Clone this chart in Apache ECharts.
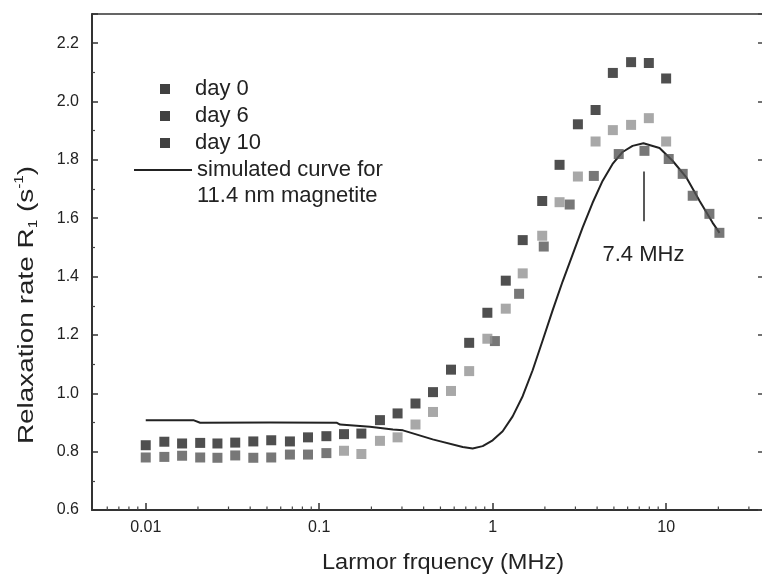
<!DOCTYPE html>
<html>
<head>
<meta charset="utf-8">
<script src="https://cdn.jsdelivr.net/npm/echarts@6/dist/echarts.min.js"></script>
<style>
  html, body { margin: 0; padding: 0; background: #fff; }
  #chart { width: 762px; height: 579px; }
</style>
</head>
<body>
<div id="chart"></div>
<script>
// Larmor frequencies (MHz) and relaxation rates R1 (1/s)
const day0Freq = [0.01, 0.0128, 0.0162, 0.0206, 0.0259, 0.0328, 0.0417, 0.0529, 0.0678, 0.0862,
  0.110, 0.139, 0.175, 0.224, 0.283, 0.359, 0.453, 0.575, 0.732, 0.932,
  1.19, 1.49, 1.93, 2.43, 3.10, 3.92, 4.93, 6.28, 7.95, 10.0];
const day0R1 = [0.822, 0.834, 0.828, 0.830, 0.828, 0.831, 0.835, 0.839, 0.835, 0.849,
  0.853, 0.860, 0.862, 0.908, 0.931, 0.965, 1.004, 1.081, 1.173, 1.276,
  1.386, 1.525, 1.659, 1.783, 1.922, 1.971, 2.098, 2.135, 2.132, 2.079];

const day6Freq = [0.139, 0.175, 0.224, 0.283, 0.359, 0.453, 0.575, 0.732, 0.932, 1.19,
  1.49, 1.93, 2.43, 3.10, 3.92, 4.93, 6.28, 7.95, 10.0];
const day6R1 = [0.803, 0.792, 0.837, 0.849, 0.893, 0.936, 1.008, 1.076, 1.187, 1.290,
  1.411, 1.540, 1.655, 1.743, 1.863, 1.902, 1.920, 1.943, 1.863];

const day10Freq = [0.01, 0.0128, 0.0162, 0.0206, 0.0259, 0.0328, 0.0417, 0.0529, 0.0678, 0.0862,
  0.110, 1.03, 1.42, 1.97, 2.78, 3.83, 5.33, 7.50, 10.35, 12.46, 14.23, 17.76, 20.28];
const day10R1 = [0.780, 0.782, 0.786, 0.780, 0.779, 0.787, 0.779, 0.780, 0.790, 0.790,
  0.795, 1.179, 1.341, 1.503, 1.647, 1.745, 1.820, 1.831, 1.803, 1.752, 1.677, 1.615, 1.550];

// simulated curve for 11.4 nm magnetite
const simFreq = [0.01, 0.0188, 0.0206, 0.0522, 0.1266, 0.132, 0.196, 0.266, 0.304, 0.451,
  0.672, 0.767, 0.876, 1.0, 1.142, 1.304, 1.489, 1.700, 1.941, 2.216,
  2.530, 2.889, 3.299, 3.767, 4.301, 4.912, 5.608, 6.405, 7.4, 9.16,
  10.89, 13.11, 15.57, 18.51, 20.31];
const simR1 = [0.908, 0.908, 0.899, 0.900, 0.899, 0.893, 0.885, 0.876, 0.873, 0.842,
  0.816, 0.811, 0.819, 0.839, 0.870, 0.921, 0.990, 1.079, 1.181, 1.284,
  1.383, 1.475, 1.568, 1.653, 1.728, 1.786, 1.827, 1.848, 1.857, 1.841,
  1.797, 1.739, 1.660, 1.585, 1.550];

// peak marker
const peakFreq = 7.4;
const peakMarkTop = 1.76;
const peakMarkBottom = 1.59;
const peakLabel = '7.4 MHz';

// axes
const xMin = 0.0049, xMax = 35.7;
const yMin = 0.6, yMax = 2.3, yStep = 0.2;
const xMinorTicks = [0.006, 0.007, 0.008, 0.009,
  0.02, 0.03, 0.04, 0.05, 0.06, 0.07, 0.08, 0.09,
  0.2, 0.3, 0.4, 0.5, 0.6, 0.7, 0.8, 0.9,
  2, 3, 4, 5, 6, 7, 8, 9, 20, 30];

const FONT = "'Liberation Sans', Arial, sans-serif";
const INK = '#222';

const zip = (xs, ys) => xs.map((x, i) => [x, ys[i]]);

const chart = echarts.init(document.getElementById('chart'), null, { renderer: 'canvas' });

const simName = 'simulated curve for 11.4 nm magnetite';

chart.setOption({
  animation: false,
  backgroundColor: '#fff',
  textStyle: { fontFamily: FONT, color: INK },
  grid: { left: 92, top: 14, right: 0, bottom: 69 },
  legend: [
    {
      orient: 'vertical', left: 155, top: 73,
      itemWidth: 10, itemHeight: 10, itemGap: 5,
      selectedMode: false,
      textStyle: { fontFamily: FONT, fontSize: 22, color: INK, lineHeight: 22, padding: [0, 0, 0, 20] },
      data: [
        { name: 'day 0', icon: 'rect', itemStyle: { color: '#111' } },
        { name: 'day 6', icon: 'rect', itemStyle: { color: '#111' } },
        { name: 'day 10', icon: 'rect', itemStyle: { color: '#111' } }
      ]
    },
    {
      orient: 'vertical', left: 129, top: 126,
      itemWidth: 58, itemHeight: 2,
      selectedMode: false,
      formatter: (n) => '\n' + n.replace(' 11.4', '\n11.4'),
      textStyle: { fontFamily: FONT, fontSize: 22, color: INK, lineHeight: 26 },
      data: [{ name: simName, icon: 'rect', itemStyle: { color: '#222' } }]
    }
  ],
  xAxis: [
    {
      type: 'log', logBase: 10, min: xMin, max: xMax,
      axisLine: { show: true, lineStyle: { color: '#333', width: 2 } },
      axisTick: { show: true, inside: true, length: 7, lineStyle: { color: '#333', width: 1.5 } },
      minorTick: { show: false },
      splitLine: { show: false },
      axisLabel: {
        show: true, margin: 10, fontSize: 16, color: INK, fontFamily: FONT,
        showMinLabel: false, showMaxLabel: false
      }
    },
    {
      type: 'value', position: 'top', min: 0, max: 1,
      axisLine: { show: true, lineStyle: { color: '#333', width: 1.5 } },
      axisTick: { show: false }, axisLabel: { show: false }, splitLine: { show: false }
    }
  ],
  yAxis: [
    {
      type: 'value', min: yMin, max: yMax, interval: yStep,
      axisLine: { show: true, lineStyle: { color: '#333', width: 2 } },
      axisTick: { show: true, inside: true, length: 6, lineStyle: { color: '#333', width: 1.5 } },
      minorTick: { show: true, splitNumber: 2, length: 3, lineStyle: { color: '#444', width: 1.2 } },
      splitLine: { show: false },
      axisLabel: {
        margin: 13, fontSize: 16, color: INK, fontFamily: FONT,
        formatter: (v) => v.toFixed(1), showMaxLabel: false
      }
    },
    {
      type: 'value', position: 'right', min: yMin, max: yMax, interval: yStep,
      axisLine: { show: false },
      axisTick: { show: true, inside: true, length: 4, lineStyle: { color: '#444', width: 1.5 } },
      splitLine: { show: false },
      axisLabel: { show: false }
    }
  ],
  series: [
    {
      type: 'custom', name: 'minor ticks', silent: true, z: 1,
      data: xMinorTicks.map(v => [v, yMin]),
      renderItem: (params, api) => {
        const p = api.coord([api.value(0), api.value(1)]);
        return {
          type: 'line',
          shape: { x1: p[0], y1: p[1], x2: p[0], y2: p[1] - 3.5 },
          style: { stroke: '#444', lineWidth: 1.2 }
        };
      }
    },
    {
      type: 'line', name: simName, data: zip(simFreq, simR1),
      symbol: 'none', smooth: false, z: 3,
      lineStyle: { color: '#222', width: 2, join: 'round' },
      itemStyle: { color: '#222' },
      markLine: {
        silent: true, symbol: ['none', 'none'],
        lineStyle: { color: '#222', width: 1.5, type: 'solid' },
        label: {
          show: true, position: 'end', distance: 23, formatter: peakLabel,
          fontSize: 22, color: INK, fontFamily: FONT
        },
        data: [[{ coord: [peakFreq, peakMarkTop] }, { coord: [peakFreq, peakMarkBottom] }]]
      }
    },
    {
      type: 'scatter', name: 'day 10', data: zip(day10Freq, day10R1),
      symbol: 'rect', symbolSize: 10, z: 4,
      itemStyle: { color: '#555' }
    },
    {
      type: 'scatter', name: 'day 6', data: zip(day6Freq, day6R1),
      symbol: 'rect', symbolSize: 10, z: 4,
      itemStyle: { color: '#929292' }
    },
    {
      type: 'scatter', name: 'day 0', data: zip(day0Freq, day0R1),
      symbol: 'rect', symbolSize: 10, z: 4,
      itemStyle: { color: '#232323' }
    }
  ],
  graphic: [
    {
      type: 'text', x: 443, y: 563, scaleX: 1.07,
      style: {
        text: 'Larmor frquency (MHz)', fontFamily: FONT, fontSize: 22, fill: INK,
        align: 'center', verticalAlign: 'middle'
      }
    },
    {
      type: 'text', x: 27, y: 305, rotation: Math.PI / 2, scaleX: 1.27,
      style: {
        text: '{a|Relaxation rate R}{sub|1}{a| (s}{sup|-1}{a|)}',
        fontFamily: FONT, fill: INK, align: 'center', verticalAlign: 'middle',
        rich: {
          a: { fontFamily: FONT, fontSize: 22, lineHeight: 26, fill: INK },
          sub: { fontFamily: FONT, fontSize: 12, lineHeight: 6, verticalAlign: 'bottom', fill: INK },
          sup: { fontFamily: FONT, fontSize: 12, lineHeight: 8, verticalAlign: 'top', fill: INK }
        }
      }
    }
  ]
});
</script>
</body>
</html>
